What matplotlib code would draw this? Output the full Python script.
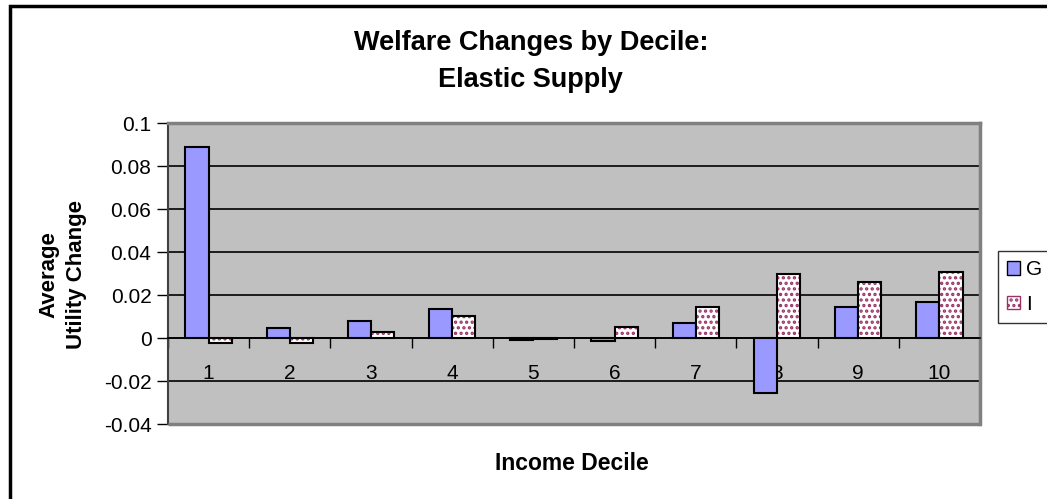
import numpy as np
import matplotlib
matplotlib.use('Agg')
import matplotlib.pyplot as plt
from matplotlib.patches import Rectangle, Patch

plt.rcParams['font.family'] = ['Liberation Sans', 'DejaVu Sans']
plt.rcParams['hatch.linewidth'] = 1.6

deciles = ['1', '2', '3', '4', '5', '6', '7', '8', '9', '10']
g_vals = [0.089, 0.0048, 0.0079, 0.0135, -0.0008, -0.0015, 0.0068, -0.0256, 0.0143, 0.0166]
i_vals = [-0.0025, -0.0025, 0.0027, 0.0104, -0.0005, 0.005, 0.0147, 0.030, 0.0262, 0.031]
y_ticks = [0.1, 0.08, 0.06, 0.04, 0.02, 0, -0.02, -0.04]
y_labels = ['0.1', '0.08', '0.06', '0.04', '0.02', '0', '-0.02', '-0.04']

fig = plt.figure(figsize=(10.47, 4.99), dpi=100)
ax = fig.add_axes([0.1605, 0.1503, 0.7755, 0.6026])
ax.set_facecolor('#c0c0c0')

x = np.arange(1, len(deciles) + 1)
w = 1 / 3.5

ax.bar(x - w / 2, g_vals, w, color='#9999ff', edgecolor='black', linewidth=1.5, zorder=3)
ax.bar(x + w / 2, i_vals, w, color='white', edgecolor='#993366', hatch='...', linewidth=0, zorder=3)
ax.bar(x + w / 2, i_vals, w, fill=False, edgecolor='black', linewidth=1.5, zorder=4)

ax.set_xlim(0.5, 10.5)
ax.set_ylim(-0.04, 0.1)
ax.set_yticks(y_ticks)
ax.set_yticklabels(y_labels)
ax.yaxis.grid(True, color='black', linewidth=1.2)
ax.set_axisbelow(True)

# category axis crosses at zero
ax.spines['bottom'].set_position(('data', 0))
ax.spines['bottom'].set_color('black')
ax.spines['bottom'].set_linewidth(1.2)
ax.spines['bottom'].set_zorder(5)
ax.set_xticks(np.arange(0.5, 11, 1))
ax.set_xticklabels([])
ax.set_xticks(x, minor=True)
ax.set_xticklabels(deciles, minor=True)
ax.tick_params(axis='x', which='major', length=7, width=1, direction='out')
ax.tick_params(axis='x', which='minor', length=0, pad=19, labelsize=15)
ax.tick_params(axis='y', length=8, width=1, labelsize=15, pad=4)

for s in ['top', 'right']:
    ax.spines[s].set_color('#808080')
    ax.spines[s].set_linewidth(2.5)
ax.spines['left'].set_color('#404040')
ax.spines['left'].set_linewidth(1.5)
ax.add_patch(Rectangle((0, 0), 1, 0, transform=ax.transAxes, fill=False,
                       edgecolor='#808080', linewidth=2.5, clip_on=False, zorder=5))

fig.text(0.060, 0.449, 'Average\nUtility Change', ha='center', va='center', rotation=90,
         fontsize=16, fontweight='bold', linespacing=1.4)
fig.text(0.546, 0.072, 'Income Decile', ha='center', va='center', fontsize=16.5, fontweight='bold')
fig.text(0.507, 0.913, 'Welfare Changes by Decile:', ha='center', va='center', fontsize=19.5, fontweight='bold')
fig.text(0.507, 0.839, 'Elastic Supply', ha='center', va='center', fontsize=19.5, fontweight='bold')

handles = [Patch(facecolor='#9999ff', edgecolor='black'),
           Patch(facecolor='white', edgecolor='#993366', hatch='...')]
leg = fig.legend(handles, ['G', 'I'], loc='upper left', bbox_to_anchor=(0.953, 0.497),
                 fontsize=15, frameon=True, fancybox=False, handlelength=0.6, handleheight=0.6,
                 handletextpad=0.3, borderpad=0.45, labelspacing=0.75, borderaxespad=0)
leg.get_frame().set_edgecolor('black')
leg.get_frame().set_linewidth(1)

fig.add_artist(Rectangle((0.0095, -0.1), 1.1, 1.087, transform=fig.transFigure, fill=False,
                         edgecolor='black', linewidth=2.5))

fig.savefig('out.png', dpi=100)
